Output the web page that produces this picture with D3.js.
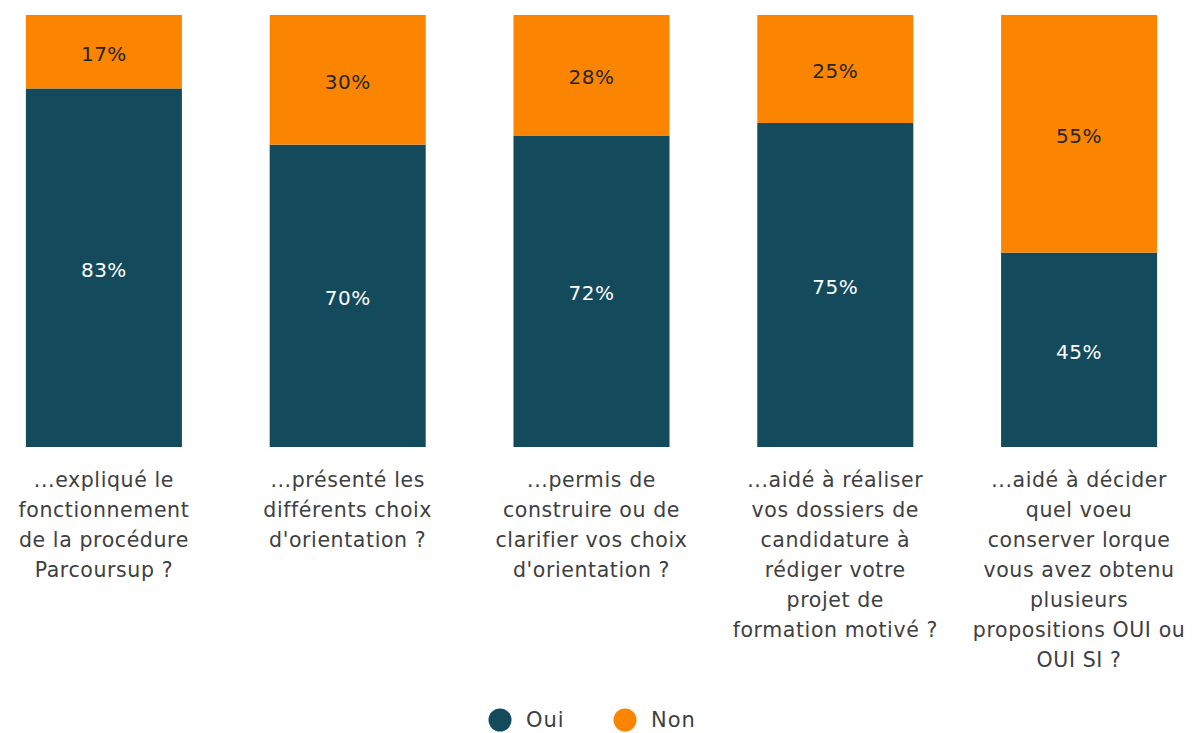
<!DOCTYPE html>
<html>
<head>
<meta charset="utf-8">
<script src="https://cdn.jsdelivr.net/npm/d3@7/dist/d3.min.js"></script>
<style>
  html, body { margin: 0; padding: 0; background: #fff; }
  svg { display: block; }
  text { font-family: "DejaVu Sans", "Noto Sans", sans-serif; }
</style>
</head>
<body>
<svg id="chart" width="1195" height="733"></svg>
<script>
const categories = [
  "...expliqué le\nfonctionnement\nde la procédure\nParcoursup ?",
  "...présenté les\ndifférents choix\nd'orientation ?",
  "...permis de\nconstruire ou de\nclarifier vos choix\nd'orientation ?",
  "...aidé à réaliser\nvos dossiers de\ncandidature à\nrédiger votre\nprojet de\nformation motivé ?",
  "...aidé à décider\nquel voeu\nconserver lorque\nvous avez obtenu\nplusieurs\npropositions OUI ou\nOUI SI ?"
];
const oui = [83, 70, 72, 75, 45];
const non = [17, 30, 28, 25, 55];
const seriesNames = ["Oui", "Non"];
const colors = ["#134b5d", "#fb8500"];

const svg = d3.select("#chart");
const x = d3.scaleBand().domain(d3.range(categories.length)).range([-18, 1201]).paddingInner(0.36).paddingOuter(0.18);
const y = d3.scaleLinear().domain([0, 100]).range([447, 15]);

const rows = categories.map((c, i) => ({ i, Oui: oui[i], Non: non[i] }));
const stack = d3.stack().keys(seriesNames)(rows);

const g = svg.append("g");
stack.forEach((layer, li) => {
  const lg = g.append("g");
  lg.selectAll("rect").data(layer).join("rect")
    .attr("x", d => x(d.data.i))
    .attr("width", x.bandwidth())
    .attr("y", d => y(d[1]))
    .attr("height", d => y(d[0]) - y(d[1]))
    .attr("fill", colors[li]);
  lg.selectAll("text").data(layer).join("text")
    .attr("x", d => x(d.data.i) + x.bandwidth() / 2)
    .attr("y", d => (y(d[0]) + y(d[1])) / 2 + 2)
    .attr("dy", "0.35em")
    .attr("text-anchor", "middle")
    .attr("font-size", 20)
    .attr("letter-spacing", 0.5)
    .attr("fill", li === 0 ? "#ffffff" : "#262626")
    .text(d => (d[1] - d[0]) + "%");
});

// category labels
const lab = svg.append("g");
categories.forEach((c, i) => {
  const t = lab.append("text")
    .attr("text-anchor", "middle")
    .attr("font-size", 20.5)
    .attr("letter-spacing", 0.6)
    .attr("fill", "#404040");
  c.split("\n").forEach((line, k) => {
    t.append("tspan")
      .attr("x", x(i) + x.bandwidth() / 2)
      .attr("y", 480 + k * 30)
      .attr("dy", "0.35em")
      .text(line);
  });
});

// legend
const leg = svg.append("g");
const legX = [500, 625];
seriesNames.forEach((s, i) => {
  leg.append("circle").attr("cx", legX[i]).attr("cy", 720).attr("r", 11.5).attr("fill", colors[i]);
  leg.append("text").attr("x", legX[i] + 26).attr("y", 720).attr("dy", "0.35em")
    .attr("font-size", 21).attr("letter-spacing", 1).attr("fill", "#404040").text(s);
});
</script>
</body>
</html>
